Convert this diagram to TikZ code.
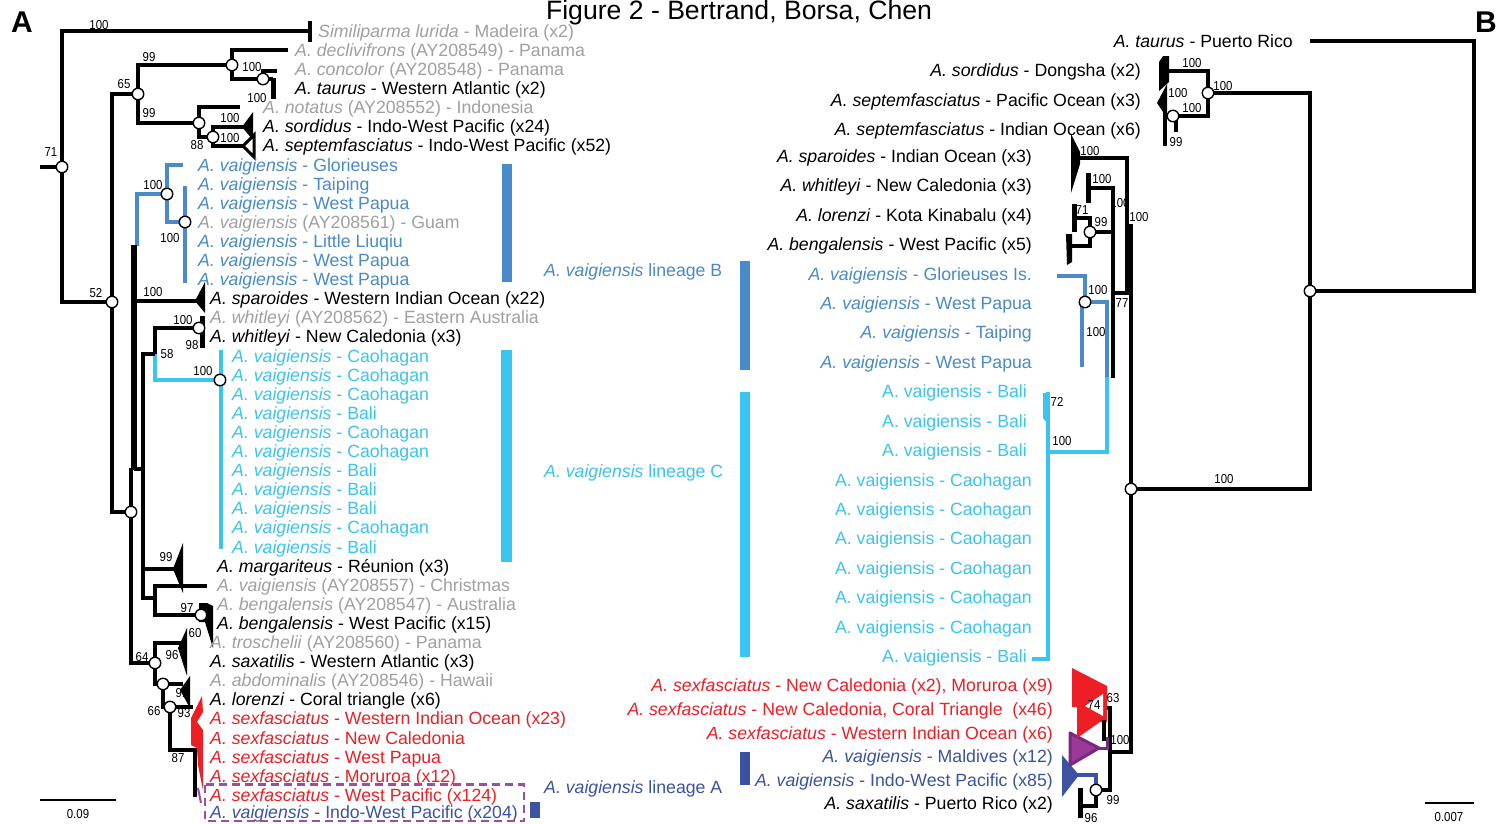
\documentclass[tikz,border=0pt]{standalone}
\usepackage{fontspec}
\setmainfont{Liberation Sans}
\newfontfamily\numfont[FakeStretch=0.88]{Liberation Sans}
\usepackage{tikz}
\usetikzlibrary{calc}

\definecolor{tgray}{RGB}{160,160,160}
\definecolor{linB}{RGB}{72,138,202}
\definecolor{linC}{RGB}{58,196,240}
\definecolor{linA}{RGB}{60,82,162}
\definecolor{sred}{RGB}{237,30,36}
\definecolor{dpurp}{RGB}{156,78,160}
\definecolor{tripurp}{RGB}{155,58,150}
\definecolor{tripurpd}{RGB}{120,40,128}

\begin{document}
\begin{tikzpicture}[x=1pt, y=-1pt,
		br/.style={line width=4.5pt},
		boot/.style={circle, draw=black, fill=white, line width=1.4pt, minimum size=11.5pt, inner sep=0pt},
		bsup/.style={font=\numfont\fontsize{13}{13}\selectfont, inner sep=0pt},
		lbl/.style={anchor=base west, inner sep=0pt, font=\fontsize{17.7}{19}\selectfont},
		rlbl/.style={lbl, anchor=base east}]

	\fill[white] (0,0) rectangle (1499,823);
	\useasboundingbox (0,0) rectangle (1499,823);

	\node[anchor=base, inner sep=0pt, font=\fontsize{26.6}{28}\selectfont] (title) at (739,19.5) {Figure 2 - Bertrand, Borsa, Chen};
	\node[anchor=base, inner sep=0pt, font=\bfseries\fontsize{30}{30}\selectfont] (pA) at (22,32) {A};
	\node[anchor=base, inner sep=0pt, font=\bfseries\fontsize{30}{30}\selectfont] (pB) at (1486,32) {B};

	% tree A
	\coordinate (n71) at (62,167);
	\coordinate (n52) at (112,302);
	\coordinate (n65) at (138,94);
	\coordinate (n99) at (232,65);
	\coordinate (nconc) at (263,79);
	\coordinate (nnot) at (199,123);
	\coordinate (nsord) at (213,137);
	\coordinate (nvB) at (167,194);
	\coordinate (nvB2) at (185,222);
	\coordinate (nwhit) at (199,328);
	\coordinate (n58) at (155,354);
	\coordinate (nvC) at (220,380);
	\coordinate (nlow) at (131,512);
	\coordinate (nbeng) at (201,615);
	\coordinate (n64) at (155,663);
	\coordinate (nlor) at (163,684);
	\coordinate (n66) at (170,707);

	\draw[br] (40,167) -- (n71);
	\draw[br] (n71) |- (310,31);
	\draw[line width=4pt] (310,21) -- (310,42);
	\draw[br] (n71) |- (n52);
	\draw[br] (n52) |- (n65);
	\draw[br] (n52) |- (nlow);
	\draw[br] (n65) |- (n99);
	\draw[br] (n65) |- (nnot);
	\draw[br] (n99) |- (288,50);
	\draw[br] (n99) |- (nconc);
	\draw[br] (nconc) |- (277,71);
	\draw[br] (nconc) -- (273,79);
	\draw[line width=5pt] (273,78) -- (273,99);
	\draw[br] (nnot) |- (240,107);
	\draw[br] (nnot) |- (nsord);
	\draw[br] (nsord) |- (246,127);
	\draw[br] (nsord) |- (243,146);
	\fill (242,127) -- (253,112) -- (253,140) -- cycle;
	\draw[line width=3pt, fill=white] (243,146) -- (254,135) -- (254,157) -- cycle;

	\draw[br, linB] (137,246) |- (nvB);
	\draw[br, linB] (nvB) |- (183,165);
	\draw[br, linB] (nvB) |- (nvB2);
	\draw[br, linB] (185,186) -- (185,283);

	\draw[line width=6pt] (134,245) -- (134,470);
	\draw[br] (134,301) -- (199,301);
	\fill (195,301) -- (205,282) -- (205,313) -- cycle;
	\draw[line width=5pt] (202,316) -- (202,348);
	\draw[br] (n58) |- (nwhit);
	\draw[br, linC] (n58) |- (nvC);
	\draw[br, linC] (221,350) -- (221,549);
	\draw[br] (n58) -| (143,598) -| (155,586) -- (207,586);
	\draw[br] (134,469) -- (143,469);
	\draw[br] (143,569) -- (177,569);
	\fill (173,569) -- (183,543) -- (183,593) -- cycle;
	\draw[br] (155,586) |- (nbeng);
	\fill (199,603) -- (207,603) -- (213,606) -- (213,648) -- (205,622) -- (199,622) -- cycle;

	\draw[br] (131,468) -- (nlow) |- (n64);
	\draw[br] (n64) |- (182,643);
	\fill (178,648) -- (187,628) -- (187,676) -- cycle;
	\draw[br] (n64) |- (nlor);
	\draw[br] (nlor) -- (183,684);
	\fill (180,690) -- (190,676) -- (190,708) -- cycle;
	\draw[br] (nlor) |- (n66);
	\draw[br] (n66) -- (193,707);
	\draw[br] (n66) |- (195,750);
	\draw[line width=4pt] (195,748) -- (195,797);
	\fill[sred] (191,745) -- (191,718) -- (202,696) -- (203,712) -- (197,722) -- (203,730) -- (203,790) -- (198,765) -- (197,748) -- cycle;
	\draw[dpurp, line width=2pt] (198,788) -- (201,803);

	\path (n71) node[boot] (o71) {} (n52) node[boot] (o52) {} (n65) node[boot] (o65) {}
		(n99) node[boot] (o99) {} (nconc) node[boot] (oconc) {} (nnot) node[boot] (onot) {}
		(nsord) node[boot] (osord) {} (nvB) node[boot] (ovB) {} (nvB2) node[boot] (ovB2) {}
		(nwhit) node[boot] (owhit) {} (nvC) node[boot] (ovC) {} (nlow) node[boot] (olow) {}
		(nbeng) node[boot] (obeng) {} (n64) node[boot] (o64) {} (nlor) node[boot] (olor) {}
		(n66) node[boot] (o66) {};

	\node[bsup] (sa1) at (51,152) {71};
	\node[bsup] (sa2) at (99,25) {100};
	\node[bsup] (sa3) at (124,84) {65};
	\node[bsup] (sa4) at (149,57) {99};
	\node[bsup] (sa5) at (149,113) {99};
	\node[bsup] (sa6) at (252,67) {100};
	\node[bsup] (sa7) at (257,98) {100};
	\node[bsup] (sa8) at (230,118) {100};
	\node[bsup] (sa9) at (230,138) {100};
	\node[bsup] (sa10) at (197,145) {88};
	\node[bsup] (sa11) at (153,185) {100};
	\node[bsup] (sa12) at (170,238) {100};
	\node[bsup] (sa13) at (96,293) {52};
	\node[bsup] (sa14) at (153,292) {100};
	\node[bsup] (sa15) at (183,320) {100};
	\node[bsup] (sa16) at (192,345) {98};
	\node[bsup] (sa17) at (167,354) {58};
	\node[bsup] (sa18) at (203,371) {100};
	\node[bsup] (sa19) at (166,557) {99};
	\node[bsup] (sa20) at (187,608) {97};
	\node[bsup] (sa21) at (195,633) {60};
	\node[bsup] (sa22) at (142,657) {64};
	\node[bsup] (sa23) at (172,655) {96};
	\node[bsup] (sa24) at (182,693) {91};
	\node[bsup] (sa25) at (154,711) {66};
	\node[bsup] (sa26) at (184,713) {93};
	\node[bsup] (sa27) at (178,758) {87};

	\node[lbl, tgray] (l1) at (318,37.3) {\textit{Similiparma lurida} - Madeira (x2)};
	\node[lbl, tgray] (l2) at (295,56.4) {\textit{A. declivifrons} (AY208549) - Panama};
	\node[lbl, tgray] (l3) at (295,75.5) {\textit{A. concolor} (AY208548) - Panama};
	\node[lbl] (l4) at (295,94.6) {\textit{A. taurus} - Western Atlantic (x2)};
	\node[lbl, tgray] (l5) at (263,113.7) {\textit{A. notatus} (AY208552) - Indonesia};
	\node[lbl] (l6) at (263,132.8) {\textit{A. sordidus} - Indo-West Pacific (x24)};
	\node[lbl] (l7) at (263,151.9) {\textit{A. septemfasciatus} - Indo-West Pacific (x52)};
	\node[lbl, linB] (l8) at (198,171.0) {\textit{A. vaigiensis} - Glorieuses};
	\node[lbl, linB] (l9) at (198,190.1) {\textit{A. vaigiensis} - Taiping};
	\node[lbl, linB] (l10) at (198,209.2) {\textit{A. vaigiensis} - West Papua};
	\node[lbl, tgray] (l11) at (198,228.3) {\textit{A. vaigiensis} (AY208561) - Guam};
	\node[lbl, linB] (l12) at (198,247.4) {\textit{A. vaigiensis} - Little Liuqiu};
	\node[lbl, linB] (l13) at (198,266.5) {\textit{A. vaigiensis} - West Papua};
	\node[lbl, linB] (l14) at (198,285.6) {\textit{A. vaigiensis} - West Papua};
	\node[lbl] (l15) at (210,304.7) {\textit{A. sparoides} - Western Indian Ocean (x22)};
	\node[lbl, tgray] (l16) at (210,323.8) {\textit{A. whitleyi} (AY208562) - Eastern Australia};
	\node[lbl] (l17) at (210,342.9) {\textit{A. whitleyi} - New Caledonia (x3)};
	\node[lbl, linC] (l18) at (232,362.0) {\textit{A. vaigiensis} - Caohagan};
	\node[lbl, linC] (l19) at (232,381.1) {\textit{A. vaigiensis} - Caohagan};
	\node[lbl, linC] (l20) at (232,400.2) {\textit{A. vaigiensis} - Caohagan};
	\node[lbl, linC] (l21) at (232,419.3) {\textit{A. vaigiensis} - Bali};
	\node[lbl, linC] (l22) at (232,438.4) {\textit{A. vaigiensis} - Caohagan};
	\node[lbl, linC] (l23) at (232,457.5) {\textit{A. vaigiensis} - Caohagan};
	\node[lbl, linC] (l24) at (232,476.6) {\textit{A. vaigiensis} - Bali};
	\node[lbl, linC] (l25) at (232,495.7) {\textit{A. vaigiensis} - Bali};
	\node[lbl, linC] (l26) at (232,514.8) {\textit{A. vaigiensis} - Bali};
	\node[lbl, linC] (l27) at (232,533.9) {\textit{A. vaigiensis} - Caohagan};
	\node[lbl, linC] (l28) at (232,553.0) {\textit{A. vaigiensis} - Bali};
	\node[lbl] (l29) at (217,572.1) {\textit{A. margariteus} - Réunion (x3)};
	\node[lbl, tgray] (l30) at (217,591.2) {\textit{A. vaigiensis} (AY208557) - Christmas};
	\node[lbl, tgray] (l31) at (217,610.3) {\textit{A. bengalensis} (AY208547) - Australia};
	\node[lbl] (l32) at (217,629.4) {\textit{A. bengalensis} - West Pacific (x15)};
	\node[lbl, tgray] (l33) at (210,648.5) {\textit{A. troschelii} (AY208560) - Panama};
	\node[lbl] (l34) at (210,667.6) {\textit{A. saxatilis} - Western Atlantic (x3)};
	\node[lbl, tgray] (l35) at (210,686.7) {\textit{A. abdominalis} (AY208546) - Hawaii};
	\node[lbl] (l36) at (210,705.8) {\textit{A. lorenzi} - Coral triangle (x6)};
	\node[lbl, sred] (l37) at (210,724.9) {\textit{A. sexfasciatus} - Western Indian Ocean (x23)};
	\node[lbl, sred] (l38) at (210,744.0) {\textit{A. sexfasciatus} - New Caledonia};
	\node[lbl, sred] (l39) at (210,763.1) {\textit{A. sexfasciatus} - West Papua};
	\node[lbl, sred] (l40) at (210,782.2) {\textit{A. sexfasciatus} - Moruroa (x12)};
	\node[lbl, sred] (l41) at (210,801.5) {\textit{A. sexfasciatus} - West Pacific (x124)};
	\node[lbl, linA] (l42) at (210,818) {\textit{A. vaigiensis} - Indo-West Pacific (x204)};
	\draw[dpurp, line width=2.5pt, dash pattern=on 8pt off 5pt] (205,784.5) rectangle (524,821);

	% lineage bars
	\fill[linB] (502,164) rectangle (512,282);
	\fill[linC] (501,350) rectangle (512,562);
	\fill[linA] (530,802) rectangle (540,818);
	\fill[linB] (740,261) rectangle (750,370);
	\fill[linC] (740,392) rectangle (750,657);
	\fill[linA] (740,752) rectangle (750,785);
	\node[lbl, linB] (mB) at (544,276.3) {\textit{A. vaigiensis} lineage B};
	\node[lbl, linC] (mC) at (544,477.3) {\textit{A. vaigiensis} lineage C};
	\node[lbl, linA] (mA) at (544,793.3) {\textit{A. vaigiensis} lineage A};

	% tree B
	\coordinate (r1) at (1310,291);
	\coordinate (r2) at (1208,93);
	\coordinate (r3) at (1131,489);
	\coordinate (r4) at (1173,116);
	\coordinate (rw) at (1090,232);
	\coordinate (rb) at (1085,302);
	\coordinate (ra) at (1096,790);

	\draw[br] (1310,41) -| (1474,291) -- (r1);
	\draw[br] (r2) -| (r1) |- (r3);
	\draw[br] (1166,71) -| (r2) |- (r4);
	\fill (1159,91) -- (1159,62) -- (1163,56) -- (1169,56) -- (1169,82) -- cycle;
	\fill (1157,103) -- (1167,84) -- (1167,118) -- cycle;
	\draw[br] (r4) -- (1165,116);
	\draw[line width=4pt] (1165,112) -- (1165,146);
	\draw[line width=4pt] (1176,116) -- (1176,132);

	\draw[br] (r3) -- (1131,226) -- (1126,226);
	\draw[br] (1079,158) -| (1127,293) -- (1113,293);
	\fill (1071,134) -- (1080,152) -- (1080,164) -- (1071,193) -- cycle;
	\draw[br, linB] (1057,276) -| (rb);
	\draw[br, linB] (rb) -| (1107,377);
	\draw[br, linB] (1082,302) -- (1082,367);
	\draw[br, linC] (1107,377) |- (1047,452);
	\draw[br, linC] (1048,392) -- (1048,659) -- (1032,659);
	\fill[linC] (1043,393) -- (1047,393) -- (1047,423) -- (1043,418) -- cycle;
	\draw[line width=5pt] (1088,173) -- (1088,203);
	\draw[br] (1088,188) -| (1113,378);
	\draw[br] (rw) -- (1113,232);
	\draw[br] (1074,218) -| (rw) |- (1070,246);
	\draw[line width=5pt] (1074,204) -- (1074,232);
	\fill (1066,234) -- (1072,234) -- (1072,262) -- (1067,265) -- cycle;

	\draw[br] (r3) |- (1110,752);
	\draw[br] (1103,708) -| (1110,790) -- (ra);
	\draw[br] (ra) |- (1080,806);
	\draw[line width=5pt] (1080,788) -- (1080,818);
	\draw[br, linA] (ra) |- (1074,775);
	\fill[linA] (1062,755) -- (1079,775) -- (1062,797) -- cycle;
	\filldraw[fill=tripurp, draw=tripurpd, line width=3pt, line join=round] (1070,733) -- (1099,748) -- (1070,765) -- cycle;
	\draw[tripurpd, line width=3pt] (1099,748) -- (1107,748) -- (1107,737);
	\fill[sred] (1072,668) -- (1107,686) -- (1107,722) -- (1100,722) -- (1077,738) -- (1077,707) -- (1072,707) -- cycle;
	\fill[white] (1085,706) -- (1103,694) -- (1103,716) -- cycle;
	\draw[line width=4pt] (1104,720) -- (1104,741);

	\path (r1) node[boot] (or1) {} (r2) node[boot] (or2) {} (r3) node[boot] (or3) {}
		(r4) node[boot] (or4) {} (rw) node[boot] (orw) {} (rb) node[boot] (orb) {}
		(ra) node[boot] (ora) {};

	\node[bsup] (sb1) at (1192,63) {100};
	\node[bsup] (sb2) at (1223,86) {100};
	\node[bsup] (sb3) at (1178,93) {100};
	\node[bsup] (sb4) at (1192,108) {100};
	\node[bsup] (sb5) at (1176,142) {99};
	\node[bsup] (sb6) at (1090,151) {100};
	\node[bsup] (sb7) at (1102,179) {100};
	\node[bsup] (sb8) at (1120,203) {100};
	\node[bsup] (sb9) at (1139,217) {100};
	\node[bsup] (sb10) at (1082,210) {71};
	\node[bsup] (sb11) at (1101,222) {99};
	\node[bsup] (sb12) at (1098,290) {100};
	\node[bsup] (sb13) at (1122,303) {77};
	\node[bsup] (sb14) at (1096,332) {100};
	\node[bsup] (sb15) at (1057,402) {72};
	\node[bsup] (sb16) at (1062,441) {100};
	\node[bsup] (sb17) at (1224,479) {100};
	\node[bsup] (sb18) at (1113,698) {63};
	\node[bsup] (sb19) at (1094,705) {74};
	\node[bsup] (sb20) at (1120,740) {100};
	\node[bsup] (sb21) at (1113,800) {99};
	\node[bsup] (sb22) at (1091,818) {96};

	\node[rlbl] (r-l1) at (1293,47.3) {\textit{A. taurus} - Puerto Rico};
	\node[rlbl] (r-l2) at (1141,76.3) {\textit{A. sordidus} - Dongsha (x2)};
	\node[rlbl] (r-l3) at (1141,106.3) {\textit{A. septemfasciatus} - Pacific Ocean (x3)};
	\node[rlbl] (r-l4) at (1141,135.3) {\textit{A. septemfasciatus} - Indian Ocean (x6)};
	\node[rlbl] (r-l5) at (1032,162.3) {\textit{A. sparoides} - Indian Ocean (x3)};
	\node[rlbl] (r-l6) at (1032,191.3) {\textit{A. whitleyi} - New Caledonia (x3)};
	\node[rlbl] (r-l7) at (1032,221.3) {\textit{A. lorenzi} - Kota Kinabalu (x4)};
	\node[rlbl] (r-l8) at (1032,250.3) {\textit{A. bengalensis} - West Pacific (x5)};
	\node[rlbl, linB] (r-l9) at (1032,280.3) {\textit{A. vaigiensis} - Glorieuses Is.};
	\node[rlbl, linB] (r-l10) at (1032,309.3) {\textit{A. vaigiensis} - West Papua};
	\node[rlbl, linB] (r-l11) at (1032,338.3) {\textit{A. vaigiensis} - Taiping};
	\node[rlbl, linB] (r-l12) at (1032,368.3) {\textit{A. vaigiensis} - West Papua};
	\node[rlbl, linC] (r-l13) at (1027,397.3) {A. vaigiensis - Bali};
	\node[rlbl, linC] (r-l14) at (1027,427.3) {A. vaigiensis - Bali};
	\node[rlbl, linC] (r-l15) at (1027,456.3) {A. vaigiensis - Bali};
	\node[rlbl, linC] (r-l16) at (1032,486.3) {A. vaigiensis - Caohagan};
	\node[rlbl, linC] (r-l17) at (1032,515.3) {A. vaigiensis - Caohagan};
	\node[rlbl, linC] (r-l18) at (1032,544.3) {A. vaigiensis - Caohagan};
	\node[rlbl, linC] (r-l19) at (1032,574.3) {A. vaigiensis - Caohagan};
	\node[rlbl, linC] (r-l20) at (1032,603.3) {A. vaigiensis - Caohagan};
	\node[rlbl, linC] (r-l21) at (1032,633.3) {A. vaigiensis - Caohagan};
	\node[rlbl, linC] (r-l22) at (1027,662.3) {A. vaigiensis - Bali};
	\node[rlbl, sred] (r-l23) at (1053,691.3) {\textit{A. sexfasciatus} - New Caledonia (x2), Moruroa (x9)};
	\node[rlbl, sred] (r-l24) at (1053,715.3) {\textit{A. sexfasciatus} - New Caledonia, Coral Triangle~ (x46)};
	\node[rlbl, sred] (r-l25) at (1053,739.3) {\textit{A. sexfasciatus} - Western Indian Ocean (x6)};
	\node[rlbl, linA] (r-l26) at (1053,762.3) {\textit{A. vaigiensis} - Maldives (x12)};
	\node[rlbl, linA] (r-l27) at (1053,786.3) {\textit{A. vaigiensis} - Indo-West Pacific (x85)};
	\node[rlbl] (r-l28) at (1053,809.3) {\textit{A. saxatilis} - Puerto Rico (x2)};

	% scale bars
	\draw[line width=2.5pt] (40,800) -- (116,800);
	\node[bsup, anchor=base] (sc1) at (78,818) {0.09};
	\draw[line width=2.5pt] (1425,803) -- (1474,803);
	\node[bsup, anchor=base] (sc2) at (1449,821) {0.007};
\end{tikzpicture}
\end{document}
